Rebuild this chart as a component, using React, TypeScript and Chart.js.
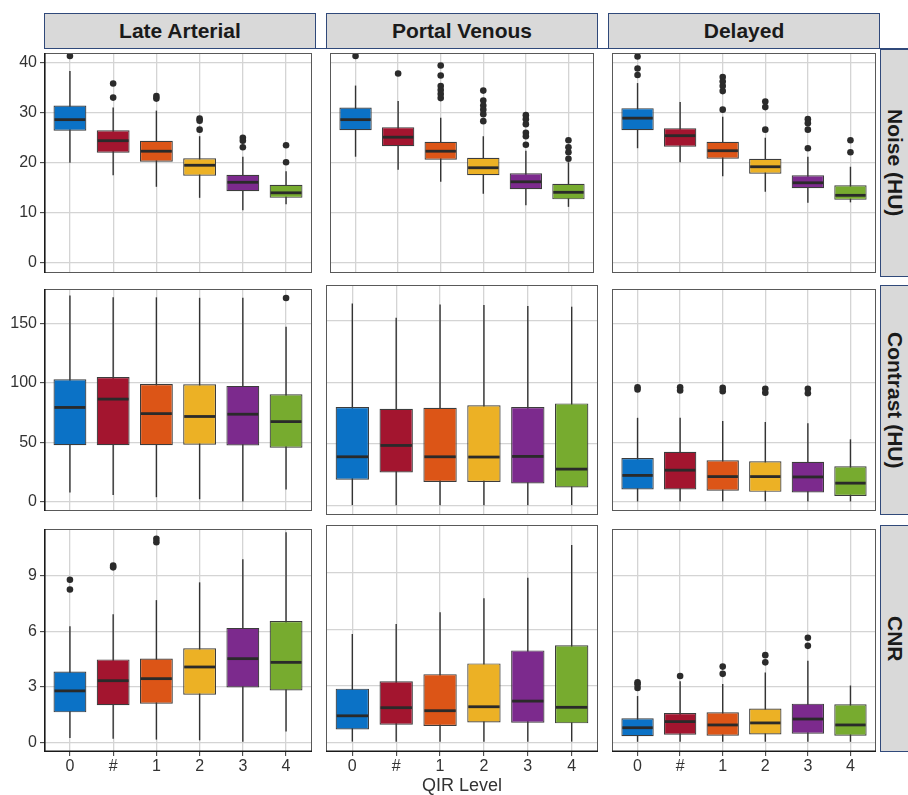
import React, { useEffect, useRef } from 'react';
import { Chart, registerables } from 'chart.js';
Chart.register(...registerables);

const CATEGORIES = ['0', '#', '1', '2', '3', '4'];
const PHASES = ['Late Arterial', 'Portal Venous', 'Delayed'];
const METRICS = ['Noise (HU)', 'Contrast (HU)', 'CNR'];
const X_TITLE = 'QIR Level';
const COLORS = ['#0b72c6', '#a3152f', '#dc5517', '#ecb125', '#7c2a8d', '#77ab2f'];

const NOISE_TICKS = [0, 10, 20, 30, 40];
const CONTRAST_TICKS = [0, 50, 100, 150];
const CNR_TICKS = [0, 3, 6, 9];

// each row: [lower whisker, Q1, median, Q3, upper whisker]
const NOISE_LA = [
  [20.0, 26.4, 28.6, 31.4, 38.3],
  [17.5, 22.0, 24.4, 26.5, 31.0],
  [15.2, 20.2, 22.3, 24.4, 30.4],
  [13.0, 17.4, 19.5, 20.9, 25.3],
  [10.5, 14.3, 16.1, 17.6, 21.2],
  [11.7, 13.0, 14.0, 15.6, 18.3],
];
const NOISE_LA_OUT = [[41.3], [35.8, 33.0], [33.3, 32.8], [28.8, 28.4, 26.6], [25.0, 24.4, 23.1], [23.5, 20.1]];

const NOISE_PV = [
  [21.2, 26.5, 28.6, 31.0, 35.4],
  [18.6, 23.3, 25.1, 27.1, 32.3],
  [16.2, 20.6, 22.3, 24.2, 29.0],
  [13.8, 17.5, 19.0, 21.0, 25.3],
  [11.5, 14.7, 16.2, 17.9, 22.4],
  [11.2, 12.7, 14.1, 15.8, 20.1],
];
const NOISE_PV_OUT = [
  [41.3], [37.8], [39.4, 37.4, 35.3, 34.5, 33.7, 32.9],
  [34.4, 32.4, 31.4, 30.6, 29.7, 28.3], [29.5, 28.7, 27.7, 26.0, 25.3, 23.6], [24.5, 23.1, 22.1, 20.8],
];

const NOISE_DL = [
  [22.9, 26.5, 28.9, 30.9, 35.9],
  [20.1, 23.2, 25.4, 26.9, 32.1],
  [17.3, 20.8, 22.4, 24.2, 29.2],
  [14.2, 17.8, 19.2, 20.8, 25.0],
  [12.0, 14.9, 16.0, 17.5, 21.2],
  [12.1, 12.6, 13.5, 15.5, 19.2],
];
const NOISE_DL_OUT = [[41.2, 38.8, 37.5], [], [37.1, 36.2, 35.3, 34.3, 30.6], [32.2, 31.1, 26.6], [28.7, 27.9, 26.6, 22.9], [24.5, 22.1]];

const CONTRAST_LA = [
  [8.1, 47.8, 79.5, 103.2, 173.5],
  [5.9, 47.8, 86.5, 105.1, 172.0],
  [4.1, 47.8, 74.3, 99.2, 172.0],
  [2.4, 48.1, 71.9, 98.9, 171.6],
  [0.5, 47.6, 73.8, 97.6, 171.6],
  [10.5, 45.7, 67.6, 90.5, 147.3],
];
const CONTRAST_LA_OUT = [[], [], [], [], [], [171.4]];

const CONTRAST_PV = [
  [0.5, 21.1, 39.7, 80.0, 164.0],
  [0.5, 27.0, 48.9, 78.6, 152.4],
  [0.5, 19.2, 39.7, 79.5, 163.2],
  [0.5, 19.2, 39.5, 81.4, 162.7],
  [0.5, 18.1, 40.0, 80.0, 161.9],
  [0.5, 14.9, 29.7, 83.0, 161.4],
];
const CONTRAST_PV_OUT = [[], [], [], [], [], []];

const CONTRAST_DL = [
  [0.5, 10.5, 22.4, 37.0, 70.8],
  [0.5, 10.5, 26.8, 42.2, 70.8],
  [0.5, 9.5, 21.4, 35.1, 68.1],
  [0.5, 8.6, 21.4, 34.3, 67.3],
  [0.5, 8.1, 21.1, 33.8, 66.2],
  [0.5, 5.1, 15.9, 30.0, 52.7],
];
const CONTRAST_DL_OUT = [[96.5, 94.6], [96.5, 93.8], [95.9, 93.2], [95.1, 91.9], [95.1, 91.4], []];

const CNR_LA = [
  [0.25, 1.63, 2.79, 3.84, 6.28],
  [0.21, 2.02, 3.34, 4.49, 6.93],
  [0.16, 2.10, 3.45, 4.54, 7.69],
  [0.12, 2.58, 4.08, 5.09, 8.65],
  [0.04, 2.97, 4.53, 6.19, 9.90],
  [0.60, 2.81, 4.33, 6.56, 11.35],
];
const CNR_LA_OUT = [[8.79, 8.26], [9.55, 9.46], [11.0, 10.82], [], [], []];

const CNR_PV = [
  [0.04, 0.69, 1.41, 2.85, 5.75],
  [0.04, 0.94, 1.84, 3.24, 6.28],
  [0.04, 0.87, 1.68, 3.62, 6.90],
  [0.04, 1.06, 1.89, 4.19, 7.64],
  [0.04, 1.04, 2.19, 4.88, 8.73],
  [0.04, 1.01, 1.86, 5.15, 10.47],
];
const CNR_PV_OUT = [[], [], [], [], [], []];

const CNR_DL = [
  [0.04, 0.34, 0.80, 1.31, 2.51],
  [0.04, 0.42, 1.13, 1.59, 3.31],
  [0.04, 0.37, 0.95, 1.64, 3.16],
  [0.04, 0.44, 1.06, 1.84, 3.78],
  [0.04, 0.48, 1.27, 2.10, 4.42],
  [0.04, 0.37, 0.95, 2.07, 3.08],
];
const CNR_DL_OUT = [[3.25, 3.15, 2.95], [3.59], [4.10, 3.71], [4.72, 4.33], [5.66, 5.22], []];

const STATS = [
  [NOISE_LA, NOISE_PV, NOISE_DL],
  [CONTRAST_LA, CONTRAST_PV, CONTRAST_DL],
  [CNR_LA, CNR_PV, CNR_DL],
];
const OUTS = [
  [NOISE_LA_OUT, NOISE_PV_OUT, NOISE_DL_OUT],
  [CONTRAST_LA_OUT, CONTRAST_PV_OUT, CONTRAST_DL_OUT],
  [CNR_LA_OUT, CNR_PV_OUT, CNR_DL_OUT],
];
const Y_TICKS = [NOISE_TICKS, CONTRAST_TICKS, CNR_TICKS];
const Y_RANGE = [[-2.0, 41.9], [-7.5, 179], [-0.51, 11.53]];

// layout
const COL_X = [44, 326, 608];
const PANEL_W = 272;
const ROW_Y = [49, 285, 525];
const ROW_H = [228, 230, 227];
const Y_AXIS_W = 44;
const X_AXIS_H = 43;
const FONT = "'Liberation Sans', Arial, Helvetica, sans-serif";
const GRID = '#d4d4d4';
const NAVY = '#30497a';

function boxParts(stats: number[][], isLeft: boolean, isBottom: boolean) {
  return {
    id: 'boxParts',
    beforeDatasetsDraw(chart: any) {
      const { ctx, chartArea: a } = chart;
      const x = chart.scales.x;
      const y = chart.scales.y;
      ctx.save();
      ctx.beginPath();
      ctx.rect(a.left, a.top, a.right - a.left, a.bottom - a.top);
      ctx.clip();
      ctx.strokeStyle = '#333333';
      ctx.lineWidth = 1.4;
      stats.forEach((s, i) => {
        const px = x.getPixelForValue(i);
        ctx.beginPath();
        ctx.moveTo(px, y.getPixelForValue(s[0]));
        ctx.lineTo(px, y.getPixelForValue(s[4]));
        ctx.stroke();
      });
      ctx.restore();
    },
    afterDatasetsDraw(chart: any) {
      const { ctx, chartArea: a } = chart;
      const y = chart.scales.y;
      const meta = chart.getDatasetMeta(1);
      ctx.save();
      ctx.strokeStyle = '#2a2a2a';
      ctx.lineWidth = 2.8;
      stats.forEach((s, i) => {
        const el: any = meta.data[i];
        const half = el.width / 2;
        const py = y.getPixelForValue(s[2]);
        ctx.beginPath();
        ctx.moveTo(el.x - half + 1, py);
        ctx.lineTo(el.x + half - 1, py);
        ctx.stroke();
      });
      // panel border
      ctx.strokeStyle = '#595959';
      ctx.lineWidth = 1;
      ctx.strokeRect(a.left + 0.5, a.top + 0.5, a.right - a.left - 1, a.bottom - a.top - 1);
      ctx.strokeStyle = '#1a1a1a';
      ctx.lineWidth = 1.6;
      if (isLeft) {
        ctx.beginPath();
        ctx.moveTo(a.left + 0.8, a.top);
        ctx.lineTo(a.left + 0.8, a.bottom);
        ctx.stroke();
      }
      if (isBottom) {
        ctx.beginPath();
        ctx.moveTo(a.left, a.bottom - 0.8);
        ctx.lineTo(a.right, a.bottom - 0.8);
        ctx.stroke();
      }
      ctx.restore();
    },
  };
}

function Panel({ r, c }: { r: number; c: number }) {
  const ref = useRef<HTMLCanvasElement | null>(null);
  const isLeft = c === 0;
  const isBottom = r === 2;
  const left = isLeft ? 0 : COL_X[c];
  const width = isLeft ? COL_X[0] + PANEL_W : PANEL_W;
  const top = ROW_Y[r];
  const height = ROW_H[r] + (isBottom ? X_AXIS_H : 0);

  useEffect(() => {
    const stats = STATS[r][c];
    const outs = OUTS[r][c];
    const yTicks = Y_TICKS[r];
    const chart = new Chart(ref.current as HTMLCanvasElement, {
      type: 'bar',
      data: {
        datasets: [
          {
            type: 'scatter',
            data: outs.flatMap((vals, i) => vals.map((v) => ({ x: i, y: v }))),
            pointRadius: 3.3,
            pointBackgroundColor: '#2b2b2b',
            pointBorderColor: '#2b2b2b',
            pointBorderWidth: 0,
            order: 0,
          } as any,
          {
            type: 'bar',
            data: stats.map((s, i) => ({ x: i, y: [s[1], s[3]] })),
            backgroundColor: COLORS,
            borderColor: '#3c3c3c',
            borderWidth: 1.2,
            borderSkipped: false,
            barPercentage: 0.76,
            categoryPercentage: 1,
            order: 1,
          } as any,
        ],
      },
      options: {
        animation: false,
        responsive: false,
        maintainAspectRatio: false,
        events: [],
        layout: { padding: 0 },
        plugins: { legend: { display: false }, tooltip: { enabled: false } },
        scales: {
          x: {
            type: 'linear',
            min: -0.6,
            max: 5.6,
            offset: false,
            afterBuildTicks: (s: any) => {
              s.ticks = CATEGORIES.map((_, i) => ({ value: i }));
            },
            afterFit: (s: any) => {
              s.height = isBottom ? X_AXIS_H : 0;
              s.paddingLeft = 0;
              s.paddingRight = 0;
            },
            grid: {
              offset: false,
              color: GRID,
              lineWidth: 1.3,
              drawTicks: isBottom,
              tickLength: 4,
              tickColor: '#333333',
              tickWidth: 1,
            },
            border: { display: false },
            ticks: {
              display: isBottom,
              autoSkip: false,
              maxRotation: 0,
              padding: 1,
              color: '#333333',
              font: { family: FONT, size: 16, lineHeight: 1.2 },
              callback: (v: any) => CATEGORIES[v],
            },
            title: {
              display: isBottom && c === 1,
              text: X_TITLE,
              color: '#333333',
              font: { family: FONT, size: 18, lineHeight: 1 },
              padding: { top: 0, bottom: 0 },
            },
          },
          y: {
            type: 'linear',
            min: Y_RANGE[r][0],
            max: Y_RANGE[r][1],
            afterBuildTicks: (s: any) => {
              s.ticks = yTicks.map((v) => ({ value: v }));
            },
            afterFit: (s: any) => {
              s.width = isLeft ? Y_AXIS_W : 0;
              s.paddingTop = 0;
              s.paddingBottom = 0;
            },
            grid: {
              color: GRID,
              lineWidth: 1.3,
              drawTicks: isLeft,
              tickLength: 4,
              tickColor: '#333333',
              tickWidth: 1,
            },
            border: { display: false },
            ticks: {
              display: isLeft,
              padding: 3,
              color: '#333333',
              font: { family: FONT, size: 16, lineHeight: 1 },
            },
          },
        },
      } as any,
      plugins: [boxParts(stats, isLeft, isBottom)],
    });
    return () => chart.destroy();
  }, []);

  return (
    <canvas
      ref={ref}
      width={width}
      height={height}
      style={{ position: 'absolute', left, top, width, height, display: 'block' }}
    />
  );
}

export default function App() {
  const panels: JSX.Element[] = [];
  for (let r = 0; r < 3; r++) for (let c = 0; c < 3; c++) panels.push(<Panel key={`${r}-${c}`} r={r} c={c} />);
  return (
    <div
      style={{
        position: 'absolute',
        left: 0,
        top: 0,
        width: 908,
        height: 795,
        background: '#ffffff',
        overflow: 'hidden',
        fontFamily: FONT,
      }}
    >
      {panels}
      {PHASES.map((p, c) => (
        <div
          key={p}
          style={{
            position: 'absolute',
            left: COL_X[c],
            top: 13,
            width: PANEL_W,
            height: 36,
            boxSizing: 'border-box',
            background: '#d9d9d9',
            border: `1px solid ${NAVY}`,
            display: 'flex',
            alignItems: 'center',
            justifyContent: 'center',
            fontWeight: 'bold',
            fontSize: 21,
            color: '#1a1a1a',
          }}
        >
          {p}
        </div>
      ))}
      <div style={{ position: 'absolute', left: 44, top: 48, width: 864, height: 1, background: NAVY }} />
      {METRICS.map((m, r) => (
        <div
          key={m}
          style={{
            position: 'absolute',
            left: 880,
            top: ROW_Y[r],
            width: 28,
            height: ROW_H[r],
            boxSizing: 'border-box',
            background: '#d9d9d9',
            borderLeft: `1px solid ${NAVY}`,
            borderTop: `1px solid ${NAVY}`,
            borderBottom: `1px solid ${NAVY}`,
            display: 'flex',
            alignItems: 'center',
            justifyContent: 'center',
            fontWeight: 'bold',
            fontSize: 21,
            color: '#1a1a1a',
          }}
        >
          <span style={{ writingMode: 'vertical-rl', whiteSpace: 'nowrap' }}>{m}</span>
        </div>
      ))}
    </div>
  );
}
